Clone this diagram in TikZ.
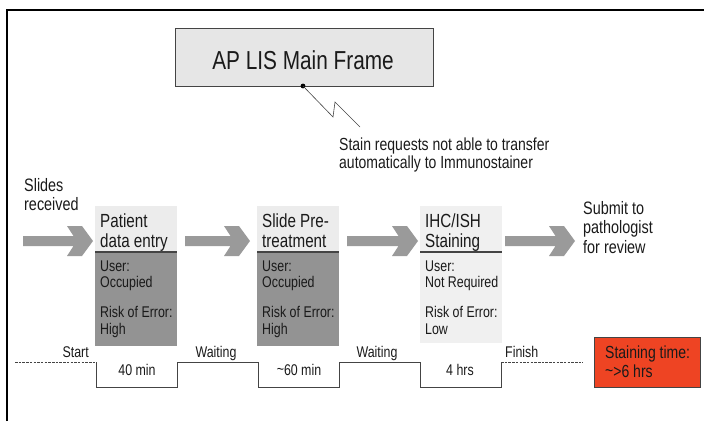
\documentclass[tikz,border=0pt]{standalone}
\usepackage{fontspec}
\setmainfont{Liberation Sans}[FakeStretch=0.8]
\usetikzlibrary{calc}
\definecolor{lightbox}{HTML}{ECECEC}
\definecolor{darkbox}{HTML}{939393}
\definecolor{lightboxb}{HTML}{F0F0F0}
\definecolor{apfill}{HTML}{E6E6E6}
\definecolor{arrowgray}{HTML}{9A9A9A}
\definecolor{redbox}{HTML}{EE4423}
\definecolor{linegray}{HTML}{444444}
\definecolor{textcol}{HTML}{1A1A1A}
\newcommand\blockarrow[2]{%
  \fill[arrowgray] ($(#1)+(0,-5)$) -- ($(#2)+(-19.5,-5)$) -- ($(#2)+(-26,-15)$) -- ($(#2)+(-11,-15)$) -- (#2)
    -- ($(#2)+(-11,15)$) -- ($(#2)+(-26,15)$) -- ($(#2)+(-19.5,5)$) -- ($(#1)+(0,5)$) -- cycle;}
\newcommand\txtlines[1]{\begin{tabular}[t]{@{}l@{}}#1\end{tabular}}
\begin{document}
\begin{tikzpicture}[x=1pt,y=-1pt,
  txt/.style={inner sep=0pt, anchor=base west, text=textcol},
  big/.style={txt, font=\fontsize{19}{20}\selectfont},
  med/.style={txt, font=\fontsize{18}{19}\selectfont},
  small/.style={txt, font=\fontsize{15.5}{16.5}\selectfont},
  tl/.style={inner sep=0pt, text=textcol, font=\fontsize{15.5}{16.5}\selectfont},
  part/.style={inner sep=0pt, outer sep=0pt, anchor=north west, minimum width=82pt},
  sep/.style={draw=linegray, line width=1.5pt},
  stepline/.style={draw=linegray, line width=1pt},
  dashline/.style={draw=linegray, line width=0.8pt, dash pattern=on 2.5pt off 1.2pt},
]
\useasboundingbox (0,0) rectangle (704,421);
% frame
\draw[line width=1.5pt, black] (7,421) -- (7,10) -- (704,10);

% AP LIS main frame
\node[draw=linegray, fill=apfill, line width=0.8pt, minimum width=258pt, minimum height=58pt, inner sep=0pt, anchor=north west] (ap) at (175,28) {};
\node[inner sep=0pt, anchor=base, text=textcol, font=\fontsize{26}{28}\selectfont] (aptext) at (303,69.5) {AP LIS Main Frame};
\fill[black] (303,86) circle (2.4pt);
\coordinate (zz) at (360,127);
\draw[linegray, line width=0.6pt] (303,86) -- (333,117) -- (335,102) -- (zz);
\node[txt, font=\fontsize{17.5}{18.5}\selectfont] (note) at (339,150) {\txtlines{Stain requests not able to transfer\\automatically to Immunostainer}};

% start / end texts
\node[med] (slides) at (24,191) {\txtlines{Slides\\received}};
\node[med, font=\fontsize{18}{19.5}\selectfont] (submit) at (583,214) {\txtlines{Submit to\\pathologist\\for review}};

% boxes
\node[part, fill=lightbox, minimum height=46pt] (b1t) at (95,206) {};
\node[part, fill=darkbox, minimum height=94pt] (b1b) at (95,252) {};
\node[part, fill=lightbox, minimum height=46pt] (b2t) at (257,206) {};
\node[part, fill=darkbox, minimum height=94pt] (b2b) at (257,252) {};
\node[part, fill=lightboxb, minimum height=46pt] (b3t) at (420,206) {};
\node[part, fill=lightboxb, minimum height=91pt] (b3b) at (420,252) {};
\draw[sep] (b1b.north west) -- (b1b.north east);
\draw[sep] (b2b.north west) -- (b2b.north east);
\draw[sep] (b3b.north west) -- (b3b.north east);

\node[big] (b1title) at (100,227) {\txtlines{Patient\\data entry}};
\node[big] (b2title) at (262,227) {\txtlines{Slide Pre-\\treatment}};
\node[big] (b3title) at (425,227) {\txtlines{IHC/ISH\\Staining}};
\node[small] (b1info) at (100,271) {\txtlines{User:\\Occupied\\[13.5pt]Risk of Error:\\High}};
\node[small] (b2info) at (262,271) {\txtlines{User:\\Occupied\\[13.5pt]Risk of Error:\\High}};
\node[small] (b3info) at (425,271) {\txtlines{User:\\Not Required\\[13.5pt]Risk of Error:\\Low}};

% block arrows
\coordinate (a1s) at (23,241);  \coordinate (a1t) at (93,241);
\coordinate (a2s) at (185,241); \coordinate (a2t) at (250,241);
\coordinate (a3s) at (347,241); \coordinate (a3t) at (418,241);
\coordinate (a4s) at (505,241); \coordinate (a4t) at (575,241);
\blockarrow{a1s}{a1t}
\blockarrow{a2s}{a2t}
\blockarrow{a3s}{a3t}
\blockarrow{a4s}{a4t}

% timeline
\coordinate (t0) at (15,362);
\coordinate (t1) at (96,362);
\coordinate (t2) at (501,362);
\coordinate (t3) at (583,362);
\draw[dashline] (t0) -- (t1);
\draw[stepline] (t1) -- (96,387) -- (177,387) -- (177,362) -- (258,362) -- (258,387) -- (339,387) -- (339,362)
  -- (420,362) -- (420,387) -- (501,387) -- (t2);
\draw[dashline] (t2) -- (t3);
\node[tl, anchor=base east] (start) at (89,357) {Start};
\node[tl, anchor=base] (wait1) at (216,357) {Waiting};
\node[tl, anchor=base] (wait2) at (377,357) {Waiting};
\node[tl, anchor=base west] (finish) at (505,357) {Finish};
\node[tl, anchor=base] (d1) at (137,375) {40 min};
\node[tl, anchor=base] (d2) at (299,375) {\raisebox{1pt}{\char`~}60 min};
\node[tl, anchor=base] (d3) at (460,375) {4 hrs};

% staining time
\node[draw=linegray, fill=redbox, line width=0.8pt, minimum width=106pt, minimum height=50pt, inner sep=0pt, anchor=north west] (red) at (594,337) {};
\node[txt, font=\fontsize{17.5}{19.5}\selectfont] (redtext) at (605,358) {\txtlines{Staining time:\\\raisebox{1pt}{\char`~}>6 hrs}};
\end{tikzpicture}
\end{document}
